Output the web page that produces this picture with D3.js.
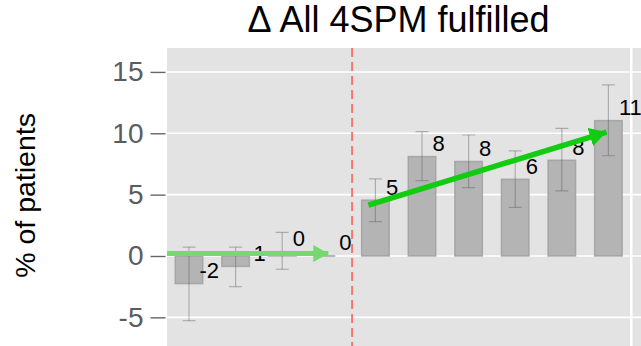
<!DOCTYPE html>
<html>
<head>
<meta charset="utf-8">
<script src="https://cdn.jsdelivr.net/npm/d3@7"></script>
<style>
  html, body { margin: 0; padding: 0; background: #fff; }
  svg { display: block; font-family: "Liberation Sans", Arial, Helvetica, sans-serif; }
</style>
</head>
<body>
<svg id="chart" width="641" height="346"></svg>
<script>
// Change in share of patients meeting all four SPM criteria, per period
const periods = ["P1", "P2", "P3", "P4", "P5", "P6", "P7", "P8", "P9", "P10"];
const change  = [-2.25, -0.85, 0.35, 0, 4.55, 8.1, 7.7, 6.25, 7.8, 11.03];
const ciLow   = [-5.27, -2.5, -1.08, 0, 2.8, 6.14, 5.57, 3.97, 5.3, 8.17];
const ciHigh  = [0.72, 0.72, 1.93, 0, 6.28, 10.13, 9.86, 8.56, 10.4, 13.94];
const yTicks  = [-5, 0, 5, 10, 15];

// Trend arrows: [start index, start value, end index, end value]
const trendBefore = [-0.6, 0.2, 2.99, 0.2];
const trendAfter  = [3.85, 4.15, 8.96, 10.1];
const breakAt = 3.5; // intervention between period 4 and 5

const svg = d3.select("#chart");
const W = 641, H = 346;
const panel = { left: 167, right: 630, top: 48, bottom: 346.8 };

const idx = d3.range(periods.length);
const x = d3.scaleLinear().domain([0, periods.length - 1]).range([189, 608.4]);
const y = d3.scaleLinear().domain([-7.4, 16.95]).range([panel.bottom, panel.top]);
const step = x(1) - x(0);
const barW = step * 0.59;

// arrow heads
const defs = svg.append("defs");
function marker(id, color, len, half) {
  defs.append("marker")
    .attr("id", id)
    .attr("viewBox", `0 ${-half} ${len} ${half * 2}`)
    .attr("refX", len).attr("refY", 0)
    .attr("markerUnits", "userSpaceOnUse")
    .attr("markerWidth", len).attr("markerHeight", half * 2)
    .attr("orient", "auto")
    .append("path")
    .attr("d", `M0,${-half}L${len},0L0,${half}Z`)
    .attr("fill", color);
}
marker("headBefore", "#76D86F", 15, 8.5);
marker("headAfter", "#11CC11", 17, 9.5);

defs.append("clipPath").attr("id", "panelClip")
  .append("rect")
  .attr("x", panel.left).attr("y", panel.top)
  .attr("width", panel.right - panel.left).attr("height", panel.bottom - panel.top);

// panel backgrounds (main panel and the edge of the neighbouring one)
svg.append("rect")
  .attr("x", panel.left).attr("y", panel.top)
  .attr("width", panel.right - panel.left).attr("height", panel.bottom - panel.top)
  .attr("fill", "#E3E3E3");
svg.append("rect")
  .attr("x", panel.right + 2.5).attr("y", panel.top)
  .attr("width", W - panel.right).attr("height", panel.bottom - panel.top)
  .attr("fill", "#E3E3E3");

// horizontal grid
svg.append("g").selectAll("line").data(yTicks).join("line")
  .attr("x1", panel.left).attr("x2", W)
  .attr("y1", d => y(d)).attr("y2", d => y(d))
  .attr("stroke", "#fff").attr("stroke-width", 1.6);

// y axis
const yAxis = d3.axisLeft(y).tickValues(yTicks).tickSize(15).tickPadding(7)
  .tickFormat(d => String(d));
const gy = svg.append("g").attr("transform", `translate(${panel.left - 1.5},0)`).call(yAxis);
gy.select(".domain").remove();
gy.selectAll(".tick line").attr("stroke", "#666").attr("stroke-width", 1.4);
gy.selectAll(".tick text")
  .attr("fill", "#5c5c5c")
  .style("font-size", "28px")
  .style("font-family", "'Liberation Sans', Arial, sans-serif");

const plot = svg.append("g").attr("clip-path", "url(#panelClip)");

// intervention line
plot.append("line")
  .attr("x1", x(breakAt)).attr("x2", x(breakAt))
  .attr("y1", panel.top).attr("y2", panel.bottom)
  .attr("stroke", "#F7776E").attr("stroke-width", 2)
  .attr("stroke-dasharray", "9,5");

// bars
plot.append("g").selectAll("rect").data(idx).join("rect")
  .attr("x", i => x(i) - barW / 2)
  .attr("width", barW)
  .attr("y", i => Math.min(y(change[i]), y(0)))
  .attr("height", i => Math.abs(y(change[i]) - y(0)))
  .attr("fill", "#B4B4B4")
  .attr("stroke", "#9E9E9E")
  .attr("stroke-width", 1.5)
  .attr("stroke-opacity", 0.8);

// error bars
const capW = 13;
const eb = plot.append("g")
  .attr("stroke", "#555").attr("stroke-opacity", 0.38).attr("stroke-width", 1.2)
  .selectAll("g").data(idx).join("g");
eb.append("line")
  .attr("x1", i => x(i)).attr("x2", i => x(i))
  .attr("y1", i => y(ciLow[i])).attr("y2", i => y(ciHigh[i]));
eb.append("line")
  .attr("x1", i => x(i) - capW / 2).attr("x2", i => x(i) + capW / 2)
  .attr("y1", i => y(ciLow[i])).attr("y2", i => y(ciLow[i]));
eb.append("line")
  .attr("x1", i => x(i) - capW / 2).attr("x2", i => x(i) + capW / 2)
  .attr("y1", i => y(ciHigh[i])).attr("y2", i => y(ciHigh[i]));

// value labels (drawn beneath the trend arrows)
svg.append("g").selectAll("text").data(idx).join("text")
  .attr("x", i => x(i) + 10.5)
  .attr("y", i => y(change[i]) - 5.5)
  .attr("fill", "#000")
  .style("font-size", "22px")
  .text(i => String(Math.round(change[i])));

// trend arrows
const arrows = svg.append("g").attr("clip-path", "url(#panelClip)");
arrows.append("line")
  .attr("x1", x(trendBefore[0])).attr("y1", y(trendBefore[1]))
  .attr("x2", x(trendBefore[2])).attr("y2", y(trendBefore[3]))
  .attr("stroke", "#76D86F").attr("stroke-width", 5)
  .attr("marker-end", "url(#headBefore)");
svg.append("line")
  .attr("x1", x(trendAfter[0])).attr("y1", y(trendAfter[1]))
  .attr("x2", x(trendAfter[2])).attr("y2", y(trendAfter[3]))
  .attr("stroke", "#11CC11").attr("stroke-width", 5.5)
  .attr("marker-end", "url(#headAfter)");

// title
svg.append("text")
  .attr("x", (panel.left + panel.right) / 2).attr("y", 32)
  .attr("text-anchor", "middle")
  .attr("fill", "#000")
  .style("font-size", "36px")
  .text("\u0394 All 4SPM fulfilled");

// y axis title
svg.append("text")
  .attr("transform", `translate(35,${(y(-7.4) + y(16.95)) / 2 - 2}) rotate(-90)`)
  .attr("text-anchor", "middle")
  .attr("fill", "#000")
  .style("font-size", "28.5px")
  .text("% of patients");
</script>
</body>
</html>
